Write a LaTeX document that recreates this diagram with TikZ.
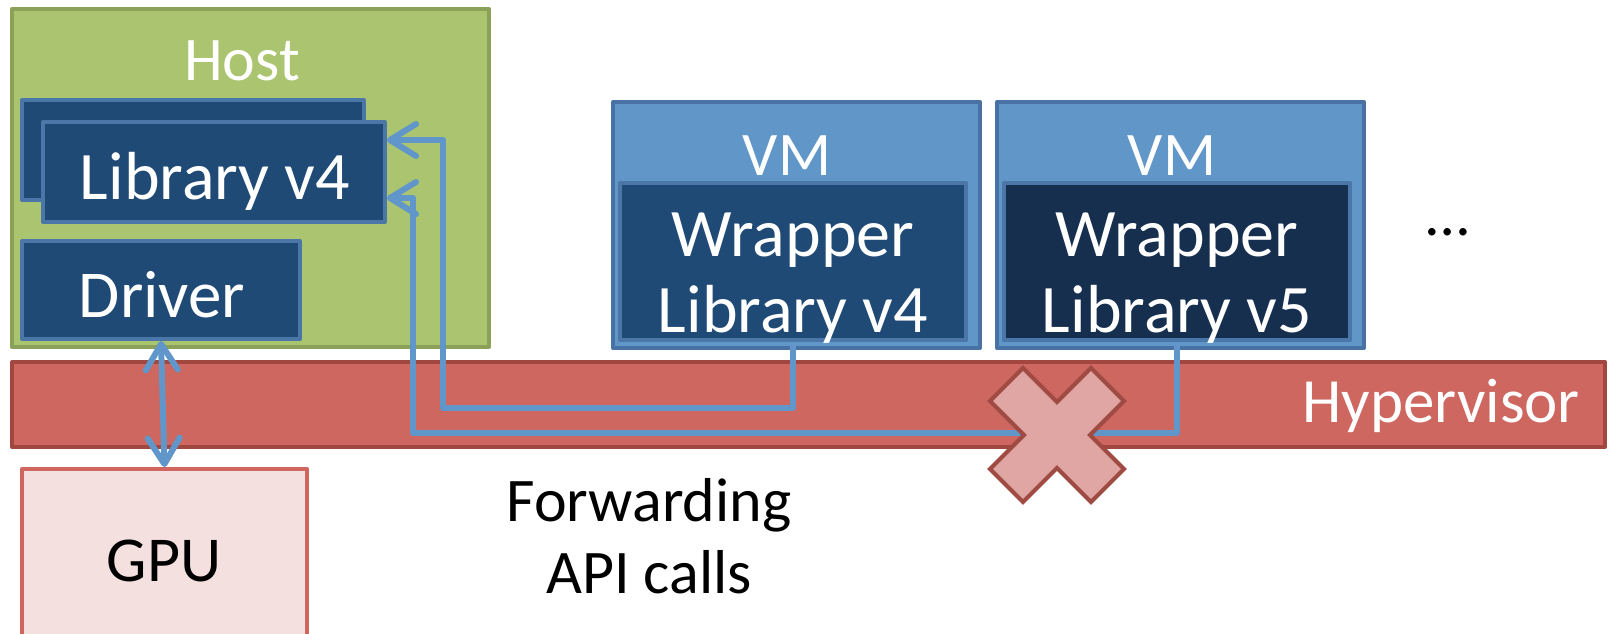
\documentclass[tikz,border=0pt]{standalone}
\usepackage{fontspec}
\setmainfont{Carlito}
\usetikzlibrary{arrows.meta,calc}

\definecolor{hostfill}{HTML}{ABC46F}
\definecolor{hostline}{HTML}{8BA158}
\definecolor{libfill}{HTML}{1F4A75}
\definecolor{libline}{HTML}{4A77A8}
\definecolor{vmfill}{HTML}{6196C9}
\definecolor{vmline}{HTML}{4872A3}
\definecolor{darklib}{HTML}{162F4F}
\definecolor{hypfill}{HTML}{CD6760}
\definecolor{hypline}{HTML}{A1473F}
\definecolor{gpufill}{HTML}{F3E0DF}
\definecolor{gpuline}{HTML}{D0665F}
\definecolor{callblue}{HTML}{6096C9}
\definecolor{crossfill}{HTML}{E0A6A4}
\definecolor{crossline}{HTML}{A04A44}

\newcommand\setsz[2]{\fontsize{#1}{#2}\selectfont}

\begin{document}
\begin{tikzpicture}[x=1pt,y=-1pt,
  panel/.style={rectangle, inner sep=0pt, line width=4pt, line join=round},
  libbox/.style={panel, fill=libfill, draw=libline},
  txt/.style={anchor=base, inner sep=0pt, text=white, align=center},
  conn/.style={draw=callblue, line width=6pt, line join=round},
  barb/.tip={Straight Barb[length=26pt,width=32pt,line cap=round,line join=round]}]

\clip (0,0) rectangle (1608,633);

% host machine with its stacked libraries and the driver
\node[panel, fill=hostfill, draw=hostline, minimum width=477pt, minimum height=338pt] (host) at (250.5,178) {};
\node[libbox, minimum width=342pt, minimum height=100pt] (libback) at (193,150) {};
\node[libbox, minimum width=342pt, minimum height=100pt] (libfront) at (214,172) {};
\node[libbox, minimum width=278pt, minimum height=98pt] (driver) at (161,290) {};

% hypervisor layer and the GPU below it
\node[panel, fill=hypfill, draw=hypline, minimum width=1593pt, minimum height=85pt] (hyper) at (808.5,404.5) {};
\node[panel, fill=gpufill, draw=gpuline, minimum width=285pt, minimum height=231pt] (gpu) at (164.5,584.5) {};

% guest virtual machines
\node[panel, fill=vmfill, draw=vmline, minimum width=367pt, minimum height=246pt] (vm1) at (796.5,225) {};
\node[libbox, minimum width=346pt, minimum height=157pt] (inner1) at (793,261.5) {};
\node[panel, fill=vmfill, draw=vmline, minimum width=367pt, minimum height=246pt] (vm2) at (1180.5,225) {};
\node[libbox, fill=darklib, minimum width=346pt, minimum height=157pt] (inner2) at (1177,261.5) {};

% forwarded call paths
\coordinate (ret1) at (443,408);
\coordinate (ret2) at (413,433);
\coordinate (in1) at (0,140);
\coordinate (in2) at (0,198);
\draw[conn, -barb] (inner1.south) |- (ret1) |- (libfront.east |- in1);
\draw[conn, -barb] (inner2.south) |- (ret2) |- (libfront.east |- in2);
\draw[conn, barb-barb] (driver.south) -- (gpu.north);

% blocked path marker
\coordinate (xc) at (1057,435);
\draw[fill=crossfill, draw=crossline, line width=4pt, line join=miter]
  (xc) ++(0,-33) -- ++(34,-34) -- ++(33,33) -- ++(-34,34) -- ++(34,34)
  -- ++(-33,33) -- ++(-34,-34) -- ++(-34,34) -- ++(-33,-33) -- ++(34,-34)
  -- ++(-34,-34) -- ++(33,-33) -- cycle;

% labels (multi-line labels are placed by the baseline of their last line)
\node[txt, font=\setsz{62}{72}] (hostlabel) at (242,80) {Host};
\node[txt, font=\setsz{68}{76}] (liblabel) at (215,199) {Library v4};
\node[txt, font=\setsz{67}{76}] (drvlabel) at (162,317) {Driver};
\node[txt, font=\setsz{62}{72}] (vm1label) at (787,175) {VM};
\node[txt, font=\setsz{62}{72}] (vm2label) at (1172,175) {VM};
\node[txt, font=\setsz{68}{76}] (w1label) at (793,332) {Wrapper\\Library v4};
\node[txt, font=\setsz{68}{76}] (w2label) at (1177,332) {Wrapper\\Library v5};
\node[txt, font=\setsz{63}{72}, anchor=base east] (hyplabel) at (1580,422) {Hypervisor};
\node[txt, font=\setsz{64}{72}, text=black] (gpulabel) at (164,581) {GPU};
\node[txt, font=\setsz{62}{72}, text=black] (fwdlabel) at (649,593) {Forwarding\\API calls};
\node[txt, font=\setsz{62}{72}, text=black] (morelabel) at (1448,235) {…};
\end{tikzpicture}
\end{document}
